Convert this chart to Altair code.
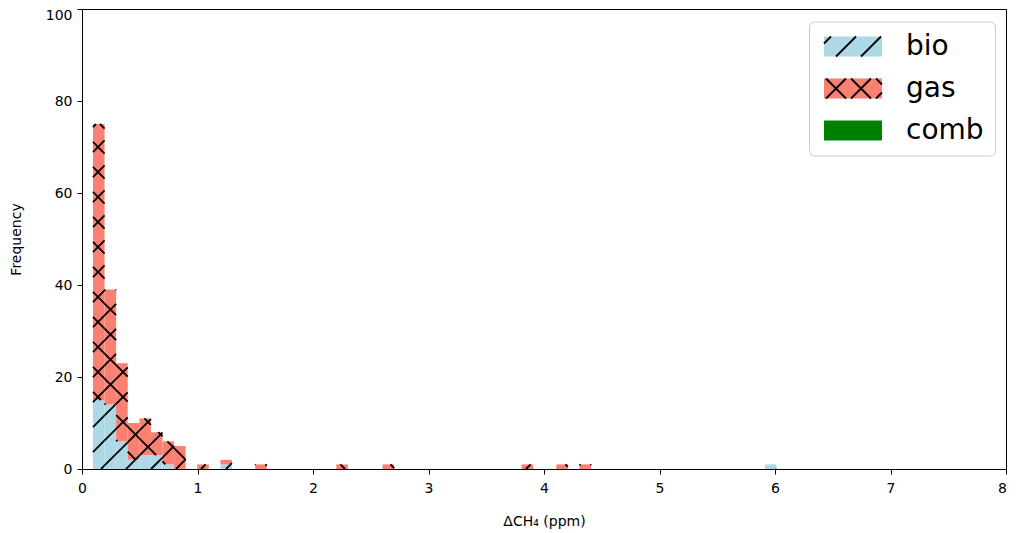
import math
import altair as alt
import pandas as pd

# ---------------- data ----------------
series_names = ["bio", "gas", "comb"]
series_colors = ["#add8e6", "#fa8072", "#008000"]

bin_start = 0.095     # left edge of the first bin (ppm)
bin_width = 0.1003    # width of every bin (ppm)
n_bins = 59

# stacked histogram counts: bin index -> count
bio_bin_index = [0, 1, 2, 3, 4, 5, 6, 11, 58]
bio_bin_count = [15, 14, 6, 2, 3, 3, 1, 1, 1]
gas_bin_index = [0, 1, 2, 3, 4, 5, 6, 7, 9, 11, 14, 21, 25, 37, 40, 42]
gas_bin_count = [60, 25, 17, 8, 8, 5, 5, 5, 1, 1, 1, 1, 1, 1, 1, 1]
comb_bin_index = []
comb_bin_count = []

x_ticks = [0, 1, 2, 3, 4, 5, 6, 7, 8]
y_ticks = [0, 20, 40, 60, 80, 100]
x_title = "ΔCH₄  (ppm)"
y_title = "Frequency"

# ---------------- layout / style ----------------
W, H = 924, 460
X_MAX, Y_MAX = 8, 100
HATCH_GAP = 25.0          # px between hatch lines
HATCH_W = 1.8
FONT = "DejaVu Sans"

counts = {
    "bio": dict(zip(bio_bin_index, bio_bin_count)),
    "gas": dict(zip(gas_bin_index, gas_bin_count)),
    "comb": dict(zip(comb_bin_index, comb_bin_count)),
}

rows = []
for k in range(n_bins):
    base = 0
    for name in series_names:
        c = counts[name].get(k, 0)
        if c > 0:
            rows.append(dict(type=name, x0=bin_start + k * bin_width,
                             x1=bin_start + (k + 1) * bin_width,
                             y0=base, y1=base + c))
        base += c
bars_df = pd.DataFrame(rows)


def clip_lines(x0, x1, y0, y1, slope, phase, gap):
    """Segments of the lines y = slope*x + c (c = phase mod gap) inside a box (y up)."""
    if slope > 0:
        cmin, cmax = y0 - x1, y1 - x0
    else:
        cmin, cmax = y0 + x0, y1 + x1
    segs = []
    for kk in range(math.ceil((cmin - phase) / gap), math.floor((cmax - phase) / gap) + 1):
        c = phase + kk * gap
        if slope > 0:
            lo, hi = max(x0, y0 - c), min(x1, y1 - c)
        else:
            lo, hi = max(x0, c - y1), min(x1, c - y0)
        if hi - lo > 1e-6:
            segs.append((lo, slope * lo + c, hi, slope * hi + c))
    return segs


hatch_dirs = {"bio": [(1, 6.0)], "gas": [(1, 6.0), (-1, 13.0)], "comb": []}
sx, sy = W / X_MAX, H / Y_MAX
hrows = []
for r in rows:
    px0, px1 = r["x0"] * sx, r["x1"] * sx
    py0, py1 = r["y0"] * sy, r["y1"] * sy
    for slope, phase in hatch_dirs[r["type"]]:
        for a, b, c, d in clip_lines(px0, px1, py0, py1, slope, phase, HATCH_GAP):
            hrows.append(dict(x=a / sx, y=b / sy, x2=c / sx, y2=d / sy))
hatch_df = pd.DataFrame(hrows)

# legend symbols (unit = 10 px, symbol centre 10 px from the patch's left edge)
rect_path = "M-1,-1H4.8V1H-1Z"


def legend_hatch_path(dirs):
    parts = []
    for slope, phase in dirs:
        for a, b, c, d in clip_lines(0, 58, 0, 20, slope, phase, HATCH_GAP):
            parts.append("M%.3f,%.3fL%.3f,%.3f" % ((a - 10) / 10, (10 - b) / 10,
                                                   (c - 10) / 10, (10 - d) / 10))
    return "".join(parts) if parts else "M0,0"


leg_dirs = {"bio": [(1, 13.0)], "gas": [(1, 23.0), (-1, 22.0)], "comb": []}
hatch_keys = [n + " hatch" for n in series_names]
hatch_paths = [legend_hatch_path(leg_dirs[n]) for n in series_names]
legend_df = pd.DataFrame({"hatch": hatch_keys})

LEG_X, LEG_Y = 727, 12.5
common_leg = dict(orient="none", legendX=LEG_X, legendY=LEG_Y, title=None,
                  direction="vertical", padding=11, rowPadding=14,
                  symbolSize=400, labelFont=FONT, labelFontSize=28,
                  labelOffset=58, labelLimit=300)

x_scale = alt.Scale(domain=[0, X_MAX], nice=False, zero=False)
y_scale = alt.Scale(domain=[0, Y_MAX], nice=False, zero=False)
x_axis = alt.Axis(values=x_ticks, title=x_title, labelFlush=False, labelOverlap=False,
                  labelPadding=7, titleY=45, titleBaseline="top", format="d",
                  labelOffset={"condition": {"test": "datum.value === 8", "value": -4},
                               "value": 0})
y_axis = alt.Axis(values=y_ticks, title=y_title, labelOverlap=False, labelPadding=5,
                  labelOffset={"condition": {"test": "datum.value === 100", "value": 6},
                               "value": 0},
                  titleX=-59, titleBaseline="bottom", format="d")

bars = alt.Chart(bars_df).mark_rect(strokeWidth=0).encode(
    x=alt.X("x0:Q", scale=x_scale, axis=x_axis),
    x2="x1:Q",
    y=alt.Y("y0:Q", scale=y_scale, axis=y_axis),
    y2="y1:Q",
    color=alt.Color("type:N",
                    scale=alt.Scale(domain=series_names, range=series_colors),
                    legend=alt.Legend(symbolType=rect_path, symbolStrokeWidth=0,
                                      labelColor="black", strokeColor="#cccccc",
                                      cornerRadius=5, **common_leg)),
)

hatch = alt.Chart(hatch_df).mark_rule(color="black", strokeWidth=HATCH_W).encode(
    x=alt.X("x:Q", scale=x_scale, axis=x_axis),
    x2="x2:Q",
    y=alt.Y("y:Q", scale=y_scale, axis=y_axis),
    y2="y2:Q",
)

hatch_legend = alt.Chart(legend_df).mark_point(
    color="black", filled=False, strokeWidth=HATCH_W
).transform_filter("false").encode(
    shape=alt.Shape("hatch:N",
                    scale=alt.Scale(domain=hatch_keys, range=hatch_paths),
                    legend=alt.Legend(symbolStrokeColor="black", symbolStrokeWidth=HATCH_W,
                                      symbolFillColor="transparent", symbolOpacity=1,
                                      labelExpr="' '", labelColor="white",
                                      strokeColor="transparent", **common_leg)),
)

chart = alt.layer(bars, hatch, hatch_legend).properties(
    width=W, height=H,
    padding={"left": 74, "top": 1, "right": 1, "bottom": 64},
    autosize=alt.AutoSizeParams(type="none"),
    background="white",
).configure_view(
    stroke="black", strokeWidth=1
).configure_axis(
    domainColor="black", domainWidth=1, tickColor="black", tickSize=5, tickWidth=1,
    labelFont=FONT, labelFontSize=14, labelColor="black",
    titleFont=FONT, titleFontSize=14, titleFontWeight="normal", titleColor="black",
    grid=False,
)

chart.save("out.html", embed_options={"renderer": "svg", "actions": False})
